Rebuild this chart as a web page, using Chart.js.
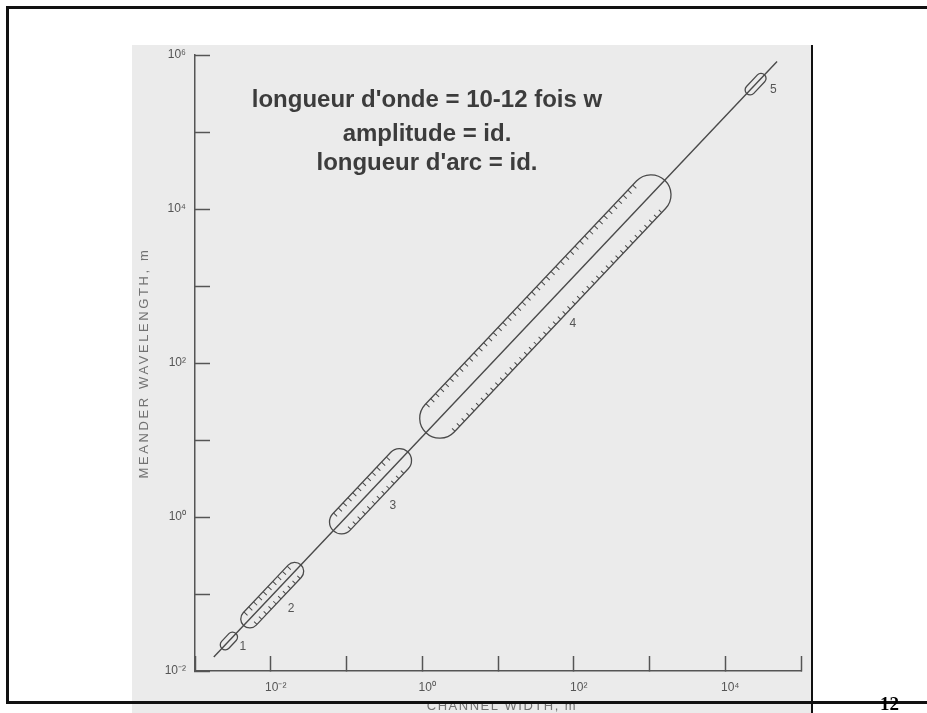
<!DOCTYPE html>
<html>
<head>
<meta charset="utf-8">
<script src="https://cdn.jsdelivr.net/npm/chart.js@4.4.0/dist/chart.umd.min.js"></script>
<style>
  html, body { margin: 0; padding: 0; width: 927px; height: 713px; overflow: hidden; background: #fff; }
  #scan { position: absolute; left: 132px; top: 45px; width: 680px; height: 700px; background: #ebebeb; }
  #chart { position: absolute; left: 0; top: 0; }
  #frame { position: absolute; left: 6px; top: 6px; width: 1000px; height: 698px; border: 3px solid #111; box-sizing: border-box; }
  #edge { position: absolute; left: 811px; top: 45px; width: 2px; height: 700px; background: #111; }
  #page { position: absolute; left: 880px; top: 694px; font: bold 19px/19px "Liberation Serif", serif; color: #000; }
</style>
</head>
<body>
<div id="scan"></div>
<canvas id="chart" width="927" height="740"></canvas>
<div id="frame"></div>
<div id="edge"></div>
<div id="page">12</div>
<script>
// axes (log-log), values
const xTickValues = [1e-3, 1e-2, 1e-1, 1e0, 1e1, 1e2, 1e3, 1e4, 1e5];
const xTickLabels = ['', '10⁻²', '', '10⁰', '', '10²', '', '10⁴', ''];
const yTickValues = [1e-2, 1e-1, 1e0, 1e1, 1e2, 1e3, 1e4, 1e5, 1e6];
const yTickLabels = ['10⁻²', '', '10⁰', '', '10²', '', '10⁴', '', '10⁶'];

// the fitted line: channel width (m) -> meander wavelength (m)
const lineWidths = [0.00177, 48300];
const lineWavelengths = [0.0152, 824000];

// the five data fields drawn as hatched envelopes along the line
const zoneNames = ['1', '2', '3', '4', '5'];
const zoneWidthFrom = [0.00251, 0.00528, 0.0859, 1.70, 21300];
const zoneWidthTo = [0.00313, 0.0207, 0.501, 1047, 29700];
const zoneWaveFrom = [0.0219, 0.0475, 0.863, 19.2, 352000];
const zoneWaveTo = [0.0276, 0.197, 5.41, 15300, 498000];

const noteLines = ["longueur d'onde = 10-12 fois w", 'amplitude = id.', "longueur d'arc = id."];

// styling for the envelopes
const zoneRadius = [5, 9, 12, 20, 5];
const zoneLabelAt = [1, 0.55, 0.56, 0.52, 1];
const zoneLabelGap = [9, 14, 14, 12, 12];
const ink = '#4a4a4a';

function drawZone(ctx, p1, p2, r, hatch) {
    const len = Math.hypot(p2.x - p1.x, p2.y - p1.y);
    const ang = Math.atan2(p2.y - p1.y, p2.x - p1.x);
    ctx.save();
    ctx.translate(p1.x, p1.y);
    ctx.rotate(ang);
    ctx.beginPath();
    ctx.moveTo(0, -r);
    ctx.lineTo(len, -r);
    ctx.arc(len, 0, r, -Math.PI / 2, Math.PI / 2);
    ctx.lineTo(0, r);
    ctx.arc(0, 0, r, Math.PI / 2, Math.PI * 1.5);
    ctx.closePath();
    ctx.stroke();
    if (hatch) {
        ctx.beginPath();
        for (let s = 1; s <= len; s += 7) {
            ctx.moveTo(s, -r);
            ctx.lineTo(s, -r + 5);
            ctx.moveTo(s, r);
            ctx.lineTo(s, r - 4);
        }
        ctx.lineWidth = 1;
        ctx.stroke();
    }
    ctx.restore();
}

const zonesPlugin = {
    id: 'zones',
    afterDatasetsDraw(chart) {
        const ctx = chart.ctx;
        const xs = chart.scales.x, ys = chart.scales.y;
        ctx.save();
        ctx.strokeStyle = ink;
        ctx.lineWidth = 1.3;
        ctx.fillStyle = '#555';
        ctx.font = '12px "Liberation Sans", Arial, sans-serif';
        ctx.textAlign = 'center';
        ctx.textBaseline = 'middle';
        zoneNames.forEach((name, i) => {
            const p1 = { x: xs.getPixelForValue(zoneWidthFrom[i]), y: ys.getPixelForValue(zoneWaveFrom[i]) };
            const p2 = { x: xs.getPixelForValue(zoneWidthTo[i]), y: ys.getPixelForValue(zoneWaveTo[i]) };
            const r = zoneRadius[i];
            drawZone(ctx, p1, p2, r, r > 6);
            // number sits just outside the lower-right edge
            const t = zoneLabelAt[i];
            const len = Math.hypot(p2.x - p1.x, p2.y - p1.y) || 1;
            const nx = -(p2.y - p1.y) / len, ny = (p2.x - p1.x) / len;
            const off = r + zoneLabelGap[i];
            ctx.fillText(name, p1.x + (p2.x - p1.x) * t + nx * off, p1.y + (p2.y - p1.y) * t + ny * off);
        });
        ctx.restore();
    },
    afterDraw(chart) {
        const ctx = chart.ctx;
        const area = chart.chartArea;
        ctx.save();
        // note in the upper left
        ctx.fillStyle = '#3c3c3c';
        ctx.font = 'bold 24px "Liberation Sans", Arial, sans-serif';
        ctx.textAlign = 'center';
        ctx.textBaseline = 'alphabetic';
        const noteX = area.left + 232;
        [52, 86, 115].forEach((dy, i) => ctx.fillText(noteLines[i], noteX, area.top + dy));
        // axis titles, spaced capitals as in the scan
        ctx.fillStyle = '#727272';
        ctx.font = '13px "Liberation Sans", Arial, sans-serif';
        ctx.letterSpacing = '2.6px';
        ctx.save();
        ctx.translate(area.left - 51, (area.top + area.bottom) / 2);
        ctx.rotate(-Math.PI / 2);
        ctx.textBaseline = 'middle';
        ctx.fillText('MEANDER WAVELENGTH, m', 0, 0);
        ctx.restore();
        ctx.letterSpacing = '1.5px';
        ctx.textBaseline = 'top';
        ctx.fillText('CHANNEL WIDTH, m', (area.left + area.right) / 2 + 4, area.bottom + 29);
        ctx.restore();
    }
};

const axisGrid = {
    drawOnChartArea: false,
    drawTicks: true,
    tickLength: -15,
    tickWidth: 1.5,
    tickColor: '#555'
};
const axisBorder = { display: true, color: '#555', width: 1.5 };
const tickFont = { family: '"Liberation Sans", Arial, sans-serif', size: 12 };

const ctx = document.getElementById('chart').getContext('2d');
const chart = new Chart(ctx, {
    type: 'scatter',
    data: {
        datasets: [{
            data: lineWidths.map((w, i) => ({ x: w, y: lineWavelengths[i] })),
            showLine: true,
            borderColor: ink,
            borderWidth: 1.4,
            pointRadius: 0,
            fill: false
        }]
    },
    options: {
        responsive: false,
        animation: false,
        devicePixelRatio: 1,
        layout: { padding: { top: 55, right: 126, left: 0, bottom: 0 } },
        plugins: { legend: { display: false }, tooltip: { enabled: false } },
        scales: {
            x: {
                type: 'logarithmic',
                position: 'bottom',
                min: 1e-3,
                max: 1e5,
                afterBuildTicks: (scale) => { scale.ticks = xTickValues.map(v => ({ value: v })); },
                afterFit: (scale) => { scale.height = 69; },
                grid: axisGrid,
                border: axisBorder,
                ticks: {
                    autoSkip: false,
                    maxRotation: 0,
                    padding: 24,
                    labelOffset: 5,
                    color: '#555',
                    font: tickFont,
                    callback: (v, i) => xTickLabels[i]
                }
            },
            y: {
                type: 'logarithmic',
                position: 'left',
                min: 1e-2,
                max: 1e6,
                afterBuildTicks: (scale) => { scale.ticks = yTickValues.map(v => ({ value: v })); },
                afterFit: (scale) => { scale.width = 195; },
                grid: axisGrid,
                border: axisBorder,
                ticks: {
                    autoSkip: false,
                    padding: 24,
                    color: '#555',
                    font: tickFont,
                    callback: (v, i) => yTickLabels[i]
                }
            }
        }
    },
    plugins: [zonesPlugin]
});
</script>
</body>
</html>
